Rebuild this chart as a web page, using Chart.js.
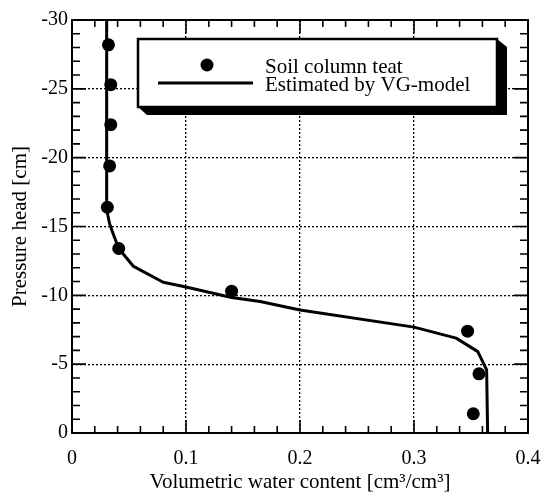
<!DOCTYPE html>
<html>
<head>
<meta charset="utf-8">
<title>Soil water retention</title>
<script src="https://cdn.jsdelivr.net/npm/chart.js@4"></script>
<style>
  html, body { margin: 0; padding: 0; background: #fff; }
</style>
</head>
<body>
<canvas id="chartRetention" width="542" height="495"></canvas>
<script>
/* ---------- data ---------- */

// soil column test (measured)
const testTheta = [0.032, 0.034, 0.034, 0.033, 0.031, 0.041, 0.140, 0.347, 0.357, 0.352];
const testHead  = [-28.2, -25.3, -22.4, -19.4, -16.4, -13.4, -10.3, -7.4, -4.3, -1.4];

// van Genuchten fitted curve
const vgTheta = [0.0304, 0.0304, 0.031, 0.033, 0.036, 0.041, 0.054, 0.080, 0.100, 0.140, 0.165, 0.200, 0.300, 0.337, 0.356, 0.3637, 0.3646];
const vgHead  = [-30.0, -16.6, -16.0, -15.2, -14.5, -13.4, -12.1, -10.95, -10.6, -9.84, -9.55, -8.94, -7.69, -6.89, -5.91, -4.58, 0];

const xTickValues = [0, 0.1, 0.2, 0.3, 0.4];
const xTickLabels = ["0", "0.1", "0.2", "0.3", "0.4"];
const yTickValues = [-30, -25, -20, -15, -10, -5, 0];
const yTickLabels = ["-30", "-25", "-20", "-15", "-10", "-5", "0"];

const legendLabels = ["Soil column teat", "Estimated by VG-model"];

const SERIF = "'Liberation Serif', 'DejaVu Serif', serif";

Chart.defaults.font.family = SERIF;
Chart.defaults.color = "#000";

function labelFor(values, labels, v) {
    const i = values.findIndex(t => Math.abs(t - v) < 1e-6);
    return i < 0 ? "" : labels[i];
}

/* ---------- frame, inward ticks, boxed legend ---------- */

const frameAndLegend = {
    id: "frameAndLegend",
    afterDatasetsDraw(chart) {
        const { ctx, chartArea: a, scales } = chart;
        const x = scales.x, y = scales.y;
        ctx.save();
        ctx.strokeStyle = "#000";
        ctx.lineWidth = 1.6;
        ctx.beginPath();
        // ticks every 0.02 on x, every 1 cm on y
        for (let i = 0; i <= 20; i++) {
            const px = x.getPixelForValue(i * 0.02);
            const len = i % 5 === 0 ? 13 : 7;
            ctx.moveTo(px, a.bottom); ctx.lineTo(px, a.bottom - len);
            ctx.moveTo(px, a.top);    ctx.lineTo(px, a.top + len);
        }
        for (let v = -30; v <= 0; v++) {
            const py = y.getPixelForValue(v);
            const len = v % 5 === 0 ? 14 : 8;
            ctx.moveTo(a.left, py);  ctx.lineTo(a.left + len, py);
            ctx.moveTo(a.right, py); ctx.lineTo(a.right - len, py);
        }
        ctx.stroke();

        ctx.lineWidth = 2;
        ctx.strokeRect(a.left, a.top, a.width, a.height);

        // legend box with drop shadow
        const bx = a.left + 66, by = a.top + 19, bw = 359, bh = 68;
        ctx.fillStyle = "#000";
        ctx.beginPath();
        ctx.moveTo(bx, by + bh);
        ctx.lineTo(bx + 9, by + bh + 8);
        ctx.lineTo(bx + bw + 10, by + bh + 8);
        ctx.lineTo(bx + bw + 10, by + 8);
        ctx.lineTo(bx + bw, by);
        ctx.closePath();
        ctx.fill();
        ctx.fillStyle = "#fff";
        ctx.fillRect(bx, by, bw, bh);
        ctx.lineWidth = 2.5;
        ctx.strokeRect(bx, by, bw, bh);

        // symbols
        ctx.fillStyle = "#000";
        ctx.beginPath();
        ctx.arc(bx + 69, by + 26, 6.5, 0, Math.PI * 2);
        ctx.fill();
        ctx.lineWidth = 3;
        ctx.beginPath();
        ctx.moveTo(bx + 20, by + 44);
        ctx.lineTo(bx + 115, by + 44);
        ctx.stroke();

        ctx.font = "21px " + SERIF;
        ctx.textAlign = "left";
        ctx.textBaseline = "alphabetic";
        ctx.fillText(legendLabels[0], bx + 127, by + 33.5);
        ctx.fillText(legendLabels[1], bx + 127, by + 52);
        ctx.restore();
    }
};

function gridColor(ctx) {
    const v = ctx.tick ? ctx.tick.value : null;
    const s = ctx.scale;
    return (v === s.min || v === s.max) ? "rgba(0,0,0,0)" : "#000";
}

new Chart(document.getElementById("chartRetention"), {
    type: "scatter",
    data: {
        datasets: [{
            label: legendLabels[0],
            data: testTheta.map((t, i) => ({ x: t, y: testHead[i] })),
            pointRadius: 6.5,
            pointHoverRadius: 6.5,
            pointBackgroundColor: "#000",
            pointBorderColor: "#000",
            borderWidth: 0,
            showLine: false
        }, {
            label: legendLabels[1],
            data: vgTheta.map((t, i) => ({ x: t, y: vgHead[i] })),
            showLine: true,
            borderColor: "#000",
            borderWidth: 3,
            pointRadius: 0,
            tension: 0,
            borderJoinStyle: "round"
        }]
    },
    options: {
        responsive: false,
        animation: false,
        layout: { padding: { top: 20, right: 14, left: 0, bottom: 0 } },
        plugins: {
            legend: { display: false },
            tooltip: { enabled: false }
        },
        scales: {
            x: {
                type: "linear",
                min: 0,
                max: 0.4,
                afterFit: s => {
                    s.height = 62;
                    s.paddingLeft = 0;
                    s.paddingRight = 0;
                },
                ticks: {
                    stepSize: 0.1,
                    padding: 14,
                    font: { size: 20 },
                    callback: v => labelFor(xTickValues, xTickLabels, v)
                },
                grid: { color: gridColor, lineWidth: 1.3, drawTicks: false },
                border: { display: false, dash: [2, 2] },
                title: {
                    display: true,
                    text: "Volumetric water content [cm\u00b3/cm\u00b3]",
                    font: { size: 21 },
                    padding: { top: 0, bottom: 0 }
                }
            },
            y: {
                type: "linear",
                min: -30,
                max: 0,
                reverse: true,
                afterFit: s => {
                    s.width = 72;
                    s.paddingTop = 0;
                    s.paddingBottom = 0;
                },
                ticks: {
                    stepSize: 5,
                    padding: 4,
                    font: { size: 20 },
                    callback: v => labelFor(yTickValues, yTickLabels, v)
                },
                grid: { color: gridColor, lineWidth: 1.3, drawTicks: false },
                border: { display: false, dash: [2, 2] },
                title: {
                    display: true,
                    text: "Pressure head [cm]",
                    font: { size: 21 },
                    padding: { top: 8, bottom: 0 }
                }
            }
        }
    },
    plugins: [frameAndLegend]
});
</script>
</body>
</html>
